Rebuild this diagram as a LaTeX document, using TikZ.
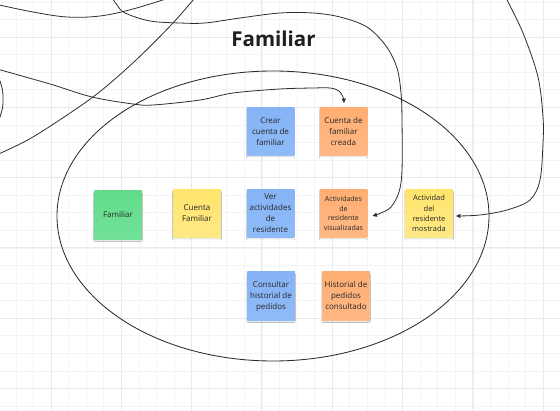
\documentclass[tikz,border=0pt]{standalone}
\usepackage{fontspec}
\setmainfont{Open Sans}
\usetikzlibrary{arrows.meta,calc,shadows.blur}
\definecolor{stblue}{HTML}{86B3F6}
\definecolor{stblueb}{HTML}{8FBBF8}
\definecolor{storange}{HTML}{FFAE72}
\definecolor{storangeb}{HTML}{FFB985}
\definecolor{stgreen}{HTML}{62DB89}
\definecolor{stgreenb}{HTML}{72E29A}
\definecolor{styellow}{HTML}{FFE46C}
\definecolor{styellowb}{HTML}{FFE985}
\definecolor{majgrid}{HTML}{EAEAEA}
\definecolor{mingrid}{HTML}{F4F4F4}
\definecolor{ink}{HTML}{2E2E2E}
\tikzset{
  sticky/.style={minimum width=47.5pt, minimum height=48.5pt, inner sep=1pt,
    align=center, text=black!85, font=\fontsize{8}{11}\selectfont,
    blur shadow={shadow xshift=0pt, shadow yshift=-1.6pt, shadow blur radius=1pt, shadow opacity=14, shadow scale=0.98}},
  blue sticky/.style={sticky, top color=stblue, bottom color=stblueb},
  orange sticky/.style={sticky, top color=storange, bottom color=storangeb},
  green sticky/.style={sticky, top color=stgreen, bottom color=stgreenb},
  yellow sticky/.style={sticky, top color=styellow, bottom color=styellowb},
  curve/.style={draw=ink, line width=0.8pt},
  arrowcurve/.style={curve, -{Triangle[length=4.5pt,width=4pt]}},
  minorline/.style={draw=mingrid, line width=0.6pt},
  majorline/.style={draw=majgrid, line width=0.9pt}
}
\begin{document}
\begin{tikzpicture}[x=1pt,y=-1pt]
\useasboundingbox (0,0) rectangle (560,411);
\clip (0,0) rectangle (560,411);
\fill[white] (0,0) rectangle (560,411);
% grid
\foreach \i in {-3,...,29} {
  \draw[minorline] ({51+\i*17.575},0) -- ({51+\i*17.575},411);
}
\foreach \j in {-2,...,22} {
  \draw[minorline] (0,{37+\j*17.575}) -- (560,{37+\j*17.575});
}
\foreach \i in {0,...,7} {
  \draw[majorline] ({51+\i*70.3},0) -- ({51+\i*70.3},411);
}
\foreach \j in {0,...,5} {
  \draw[majorline] (0,{37+\j*70.3}) -- (560,{37+\j*70.3});
}
% title
\node[anchor=base, font=\fontsize{20.5}{24}\selectfont\bfseries, text=black!88] (title) at (273.5,47) {Familiar};
% big ellipse
\draw[ink, line width=0.85pt] (273,216) ellipse [x radius=216pt, y radius=145pt];
% sticky notes
\node[blue sticky] (crear) at (270.5,131.5) {Crear\\cuenta de\\familiar};
\node[orange sticky] (creada) at (343.5,131.5) {Cuenta de\\familiar\\creada};
\node[green sticky] (familiar) at (118,215) {Familiar};
\node[yellow sticky] (cuentafam) at (197,213.5) {Cuenta\\Familiar};
\node[blue sticky] (ver) at (270.5,213.5) {Ver\\actividades\\de\\residente};
\node[orange sticky, font=\fontsize{7}{9.6}\selectfont] (visual) at (343.5,213.5) {Actividades\\de\\residente\\visualizadas};
\node[yellow sticky, font=\fontsize{7.5}{10.4}\selectfont] (mostrada) at (429,213.5) {Actividad\\del\\residente\\mostrada};
\node[blue sticky] (consultar) at (271,296) {Consultar\\historial de\\pedidos};
\node[orange sticky] (historial) at (346,296) {Historial de\\pedidos\\consultado};
% free ends
\coordinate (astart) at (-3,4.5);
\coordinate (aend) at (172,-3);
\coordinate (bstart) at (111,-4);
\coordinate (btip) at ($(visual.east)+(5,2.5)$);
\coordinate (cstart) at (-6,156);
\coordinate (cend) at (199,-7);
\coordinate (dstart) at (-3,69);
\coordinate (dtip) at ($(creada.north)+(0.5,-4)$);
\coordinate (estart) at (-1,78);
\coordinate (eend) at (-1,120);
\coordinate (fstart) at (505,-4);
\coordinate (ftip) at ($(mostrada.east)+(3,2.5)$);
% curves
\draw[curve] plot[smooth, tension=0.6] coordinates {(astart) (33,12) (67,17) (100,16) (133,9) (aend)};
\draw[arrowcurve] plot[smooth, tension=0.55] coordinates {(bstart) (117,5) (125,13) (150,21) (180,23) (205,23) (240,18) (280,13) (313,13) (340,17) (367,27) (386,46) (397,68) (401,93) (402,120) (402,170) (399,192) (391,207) (381,213) (btip)};
\draw[curve] plot[smooth, tension=0.5] coordinates {(cstart) (33,137) (93,97) (135,61) (173,23) (cend)};
\draw[arrowcurve] plot[smooth, tension=0.55] coordinates {(dstart) (50,84) (92,97) (133,104) (153,105) (200,100) (233,93) (280,89) (313,88) (330,88) (339,91) (343,97) (dtip)};
\draw[curve] plot[smooth, tension=0.6] coordinates {(estart) (2.5,90) (3,99) (2.5,108) (eend)};
\draw[arrowcurve] plot[smooth, tension=0.55] coordinates {(fstart) (523,33) (538,77) (543,117) (543,143) (540,180) (530,200) (507,210) (480,215) (ftip)};
\end{tikzpicture}
\end{document}
